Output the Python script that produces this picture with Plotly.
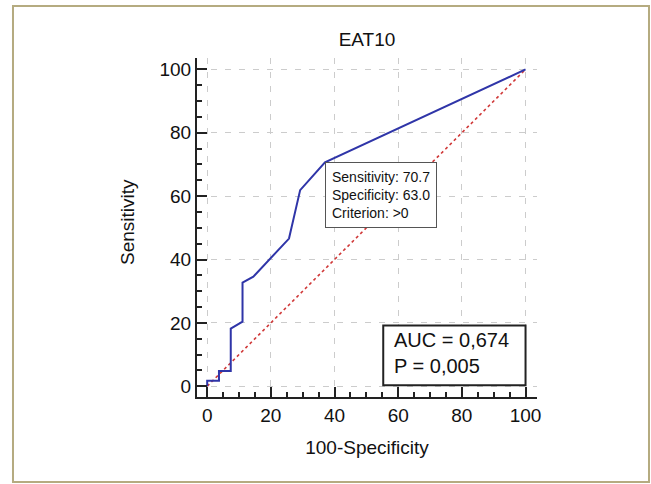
import plotly.graph_objects as go

# ROC curve data (100-Specificity vs Sensitivity)
fpr = [0, 0, 3.7, 3.7, 7.4, 7.4, 11.1, 11.1, 14.5, 25.7, 29.2, 37.0, 100]
tpr = [0, 1.7, 1.7, 4.8, 4.8, 18.2, 20.4, 32.7, 34.6, 46.6, 61.9, 70.7, 100]
ref_x = [0, 100]
ref_y = [0, 100]
tick_vals = [0, 20, 40, 60, 80, 100]
tick_text = ["0", "20", "40", "60", "80", "100"]
cut_sens = 70.7
cut_spec = 63.0
criterion = ">0"
auc_text = "0,674"
p_text = "0,005"

FONT = "Liberation Sans, Arial, sans-serif"

fig = go.Figure()
fig.add_trace(go.Scatter(x=ref_x, y=ref_y, mode="lines",
                         line=dict(color="#d03838", width=1.6, dash="dot"),
                         hoverinfo="skip", showlegend=False))
fig.add_trace(go.Scatter(x=fpr, y=tpr, mode="lines",
                         line=dict(color="#2f35a8", width=2),
                         showlegend=False))

axis_common = dict(
    tickmode="array", tickvals=tick_vals, ticktext=tick_text,
    ticks="inside", ticklen=10, tickwidth=2, tickcolor="#222",
    showline=True, linecolor="#222", linewidth=2,
    showgrid=True, gridcolor="#cccccc", gridwidth=1, griddash="6px,8px",
    zeroline=False,
    tickfont=dict(size=19, color="#111", family=FONT),
    minor=dict(dtick=5, tick0=0, ticks="inside", ticklen=5, tickwidth=1.5,
               tickcolor="#222", showgrid=False),
)

fig.update_xaxes(range=[-3.2, 103.6],
                 title=dict(text="100-Specificity", font=dict(size=19, family=FONT, color="#111"), standoff=16),
                 **axis_common)
fig.update_yaxes(range=[-3.4, 103.6], **axis_common)

# y-axis title
fig.add_annotation(x=-0.206, y=0.516, xref="paper", yref="paper",
                   xanchor="center", yanchor="middle", showarrow=False,
                   text="Sensitivity", textangle=-90,
                   font=dict(size=19, family=FONT, color="#111"))

# cut-off annotation box
fig.add_annotation(x=fpr[-2], y=tpr[-2], xref="x", yref="y",
                   xanchor="left", yanchor="top", showarrow=False, align="left",
                   text=f"Sensitivity: {cut_sens}<br>Specificity: {cut_spec:.1f}<br>Criterion: {criterion}",
                   font=dict(size=14, family=FONT, color="#111"),
                   bgcolor="white", bordercolor="#555", borderwidth=1, borderpad=6)

# AUC box
fig.add_shape(type="rect", xref="x", yref="y", x0=55.3, x1=100, y0=0.3, y1=19.2,
              line=dict(color="#222", width=2), fillcolor="white", layer="above")
fig.add_annotation(x=58.1, y=10.6, xref="x", yref="y", xanchor="left", yanchor="middle",
                   showarrow=False, align="left",
                   text=f"AUC = {auc_text}<br>P = {p_text}",
                   font=dict(size=20, family=FONT, color="#111"))

# outer frame
fig.add_shape(type="rect", xref="paper", yref="paper",
              x0=-0.5412, x1=1.3294, y0=-0.2507, y1=1.1534,
              line=dict(color="#b5ab80", width=2), fillcolor="rgba(0,0,0,0)")

fig.update_layout(
    width=651, height=484,
    margin=dict(l=197, r=114, t=58, b=87),
    paper_bgcolor="white", plot_bgcolor="white",
    title=dict(text="EAT10", x=0.5, xref="paper", xanchor="center",
               y=1 - 39 / 484, yref="container", yanchor="middle",
               font=dict(size=19, family=FONT, color="#111")),
    font=dict(family=FONT),
)

fig.write_html("out.html", config={"displayModeBar": False},
               post_script="document.body.style.margin='0';document.body.style.overflow='hidden';")
